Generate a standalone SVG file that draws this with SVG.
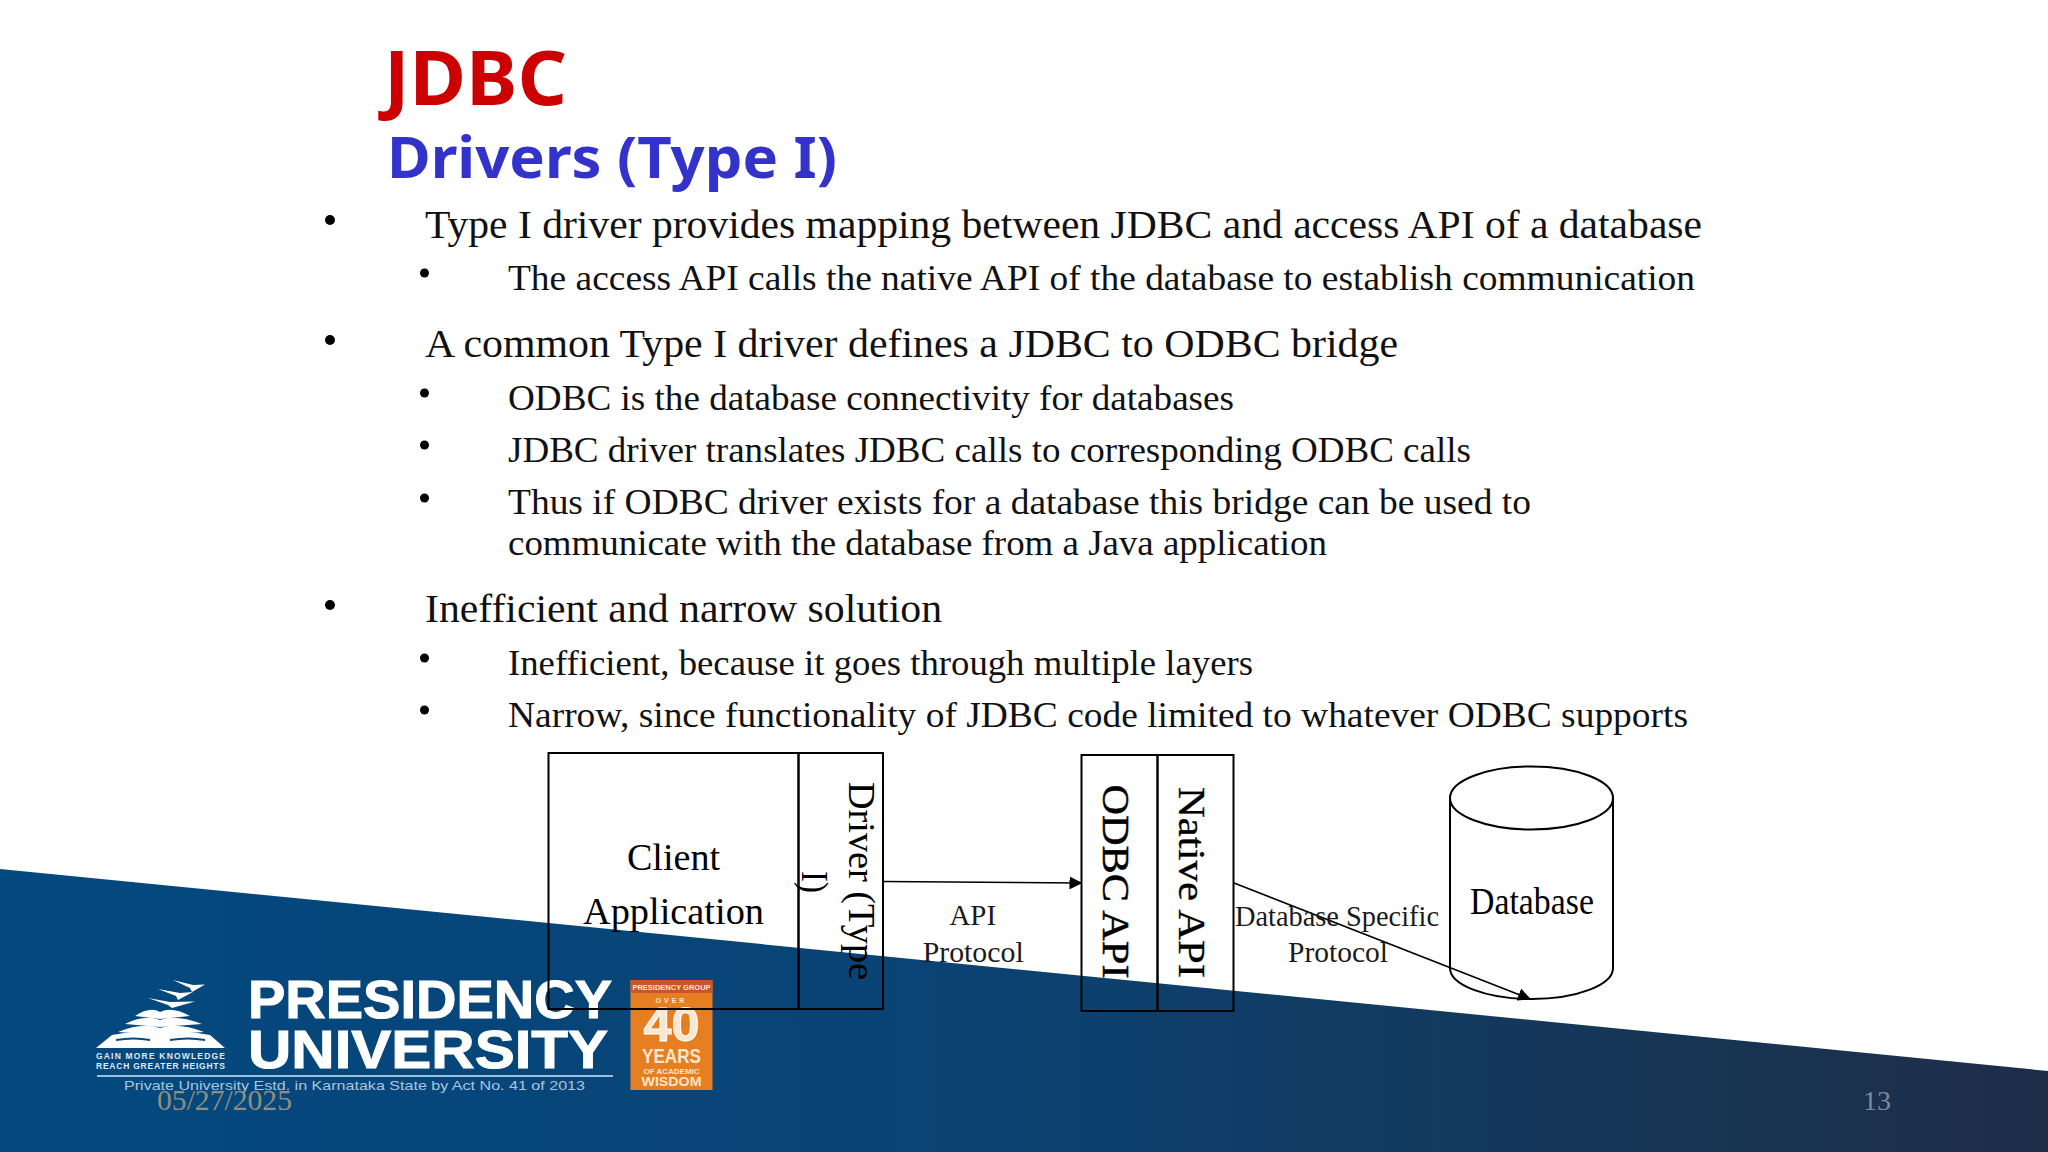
<svg xmlns="http://www.w3.org/2000/svg" width="2048" height="1152" viewBox="0 0 2048 1152">
<style>
.b{font-family:"Liberation Serif",serif;fill:#111;font-size:40px}
.s{font-family:"Liberation Serif",serif;fill:#111;font-size:36px}
.d{font-family:"Liberation Serif",serif;fill:#000;font-size:37px}
.l{font-family:"Liberation Serif",serif;fill:#1a1a1a;font-size:29px}
.t{font-family:"Noto Sans",sans-serif;font-weight:700}
.k{fill:none;stroke:#000;stroke-width:2}
.c{fill:none;stroke:#000;stroke-width:1.7}
.u{font-family:"Liberation Sans",sans-serif;font-weight:700;fill:#fff;stroke:#fff;stroke-width:1}
.m{font-family:"Liberation Sans",sans-serif;font-weight:700;fill:#dfeaf3}
.o{font-family:"Liberation Sans",sans-serif;font-weight:700;text-anchor:middle;fill:#fbe6cf}
.w{fill:#fff}
</style>
<defs>
<linearGradient id="bg" x1="0" y1="0" x2="1" y2="0">
<stop offset="0" stop-color="#03497f"/><stop offset=".45" stop-color="#0a4375"/><stop offset=".8" stop-color="#163656"/><stop offset="1" stop-color="#1e2d48"/>
</linearGradient>
<marker id="ah" markerWidth="13" markerHeight="13" refX="12" refY="6.5" orient="auto" markerUnits="userSpaceOnUse"><path d="M0 0L13 6.5L0 13Z" fill="#000"/></marker>
</defs>
<rect width="2048" height="1152" fill="#fff"/>
<path d="M0 869L2048 1071V1152H0Z" fill="url(#bg)"/>

<g id="title">
<text class="t" x="384" y="105" font-size="76" fill="#cc0000" textLength="183" lengthAdjust="spacingAndGlyphs">JDBC</text>
<text class="t" x="387" y="178" font-size="58" fill="#3333cc" textLength="450" lengthAdjust="spacingAndGlyphs">Drivers (Type I)</text>
</g>

<g id="bullets">
<circle cx="330" cy="220" r="5"/><circle cx="330" cy="340" r="5"/><circle cx="330" cy="605" r="5"/>
<circle cx="424.5" cy="273" r="4.5"/><circle cx="424.5" cy="393" r="4.5"/><circle cx="424.5" cy="445" r="4.5"/><circle cx="424.5" cy="498" r="4.5"/><circle cx="424.5" cy="658" r="4.5"/><circle cx="424.5" cy="710" r="4.5"/>
<text class="b" x="425" y="238" textLength="1277" lengthAdjust="spacingAndGlyphs">Type I driver provides mapping between JDBC and access API of a database</text>
<text class="s" x="508" y="290" textLength="1187" lengthAdjust="spacingAndGlyphs">The access API calls the native API of the database to establish communication</text>
<text class="b" x="425" y="357" textLength="973" lengthAdjust="spacingAndGlyphs">A common Type I driver defines a JDBC to ODBC bridge</text>
<text class="s" x="508" y="410" textLength="726" lengthAdjust="spacingAndGlyphs">ODBC is the database connectivity for databases</text>
<text class="s" x="508" y="462" textLength="963" lengthAdjust="spacingAndGlyphs">JDBC driver translates JDBC calls to corresponding ODBC calls</text>
<text class="s" x="508" y="514" textLength="1023" lengthAdjust="spacingAndGlyphs">Thus if ODBC driver exists for a database this bridge can be used to</text>
<text class="s" x="508" y="555" textLength="819" lengthAdjust="spacingAndGlyphs">communicate with the database from a Java application</text>
<text class="b" x="425" y="622" textLength="517" lengthAdjust="spacingAndGlyphs">Inefficient and narrow solution</text>
<text class="s" x="508" y="675" textLength="745" lengthAdjust="spacingAndGlyphs">Inefficient, because it goes through multiple layers</text>
<text class="s" x="508" y="727" textLength="1180" lengthAdjust="spacingAndGlyphs">Narrow, since functionality of JDBC code limited to whatever ODBC supports</text>
</g>

<g id="logo">
<g id="book">
<path class="w" d="M135 1016Q150 1006 160 1012Q172 1006 190 1016L160 1019Z"/>
<path class="w" d="M125 1024Q145 1014 160 1020Q176 1014 202 1024L160 1027Z"/>
<path class="w" d="M118 1032Q142 1022 160 1028Q178 1022 204 1032L160 1035Z"/>
<path class="w" fill-rule="evenodd" d="M112 1035Q135 1030 153 1034L167 1034Q186 1030 210 1035L225 1048H96ZM116 1039Q134 1036 150 1039L150 1041Q134 1038 116 1041ZM170 1039Q188 1036 205 1039L205 1041Q188 1038 170 1041Z"/>
<path class="w" d="M173 980L193 985L205 984.5L192 992L190 988ZM158 989L180 993L193 992L178 1000L176 996ZM148 998L170 1002L195 1001.5L172 1008L168 1005Z"/>
</g>
<text class="m" x="96" y="1059" font-size="8.5" textLength="129" lengthAdjust="spacing">GAIN MORE KNOWLEDGE</text>
<text class="m" x="96" y="1069" font-size="8.5" textLength="129" lengthAdjust="spacing">REACH GREATER HEIGHTS</text>
<text class="u" x="248" y="1018" font-size="53" textLength="364" lengthAdjust="spacingAndGlyphs">PRESIDENCY</text>
<text class="u" x="248" y="1068" font-size="53" textLength="360" lengthAdjust="spacingAndGlyphs">UNIVERSITY</text>
<rect x="97" y="1075" width="516" height="2" fill="#9fc0dc"/>
<text x="124" y="1090" font-family="Liberation Sans,sans-serif" font-size="13.5" fill="#a9c6de" textLength="461" lengthAdjust="spacingAndGlyphs">Private University Estd. in Karnataka State by Act No. 41 of 2013</text>
<rect x="630.5" y="980" width="82" height="110" fill="#e67e22"/>
<rect x="630.5" y="980" width="82" height="13" fill="#c8552b"/>
<text class="o" x="671.5" y="990" font-size="7.5">PRESIDENCY GROUP</text>
<text class="o" x="671.5" y="1003" font-size="7" letter-spacing="3">OVER</text>
<text class="o" x="671.5" y="1041" font-size="48" fill="#fff" stroke="#fff" stroke-width="1" textLength="56" lengthAdjust="spacingAndGlyphs">40</text>
<text class="o" x="671.5" y="1063" font-size="21" textLength="59" lengthAdjust="spacingAndGlyphs">YEARS</text>
<text class="o" x="671.5" y="1074" font-size="8">OF ACADEMIC</text>
<text class="o" x="671.5" y="1086" font-size="12" textLength="60" lengthAdjust="spacingAndGlyphs">WISDOM</text>
</g>

<text id="date" x="157" y="1110" font-family="Liberation Serif,serif" font-size="30" fill="#8f8f7d" textLength="135" lengthAdjust="spacingAndGlyphs">05/27/2025</text>
<text id="page" x="1877" y="1110" font-family="Liberation Serif,serif" font-size="28" fill="#7d8a99" text-anchor="middle">13</text>

<g id="client-application">
<rect class="k" x="548.5" y="753" width="250" height="256"/>
<text class="d" x="627" y="870" textLength="93" lengthAdjust="spacingAndGlyphs">Client</text>
<text class="d" x="583" y="924" textLength="181" lengthAdjust="spacingAndGlyphs">Application</text>
</g>
<g id="driver-type-i">
<rect class="k" x="798.5" y="753" width="84.5" height="256"/>
<text class="d" transform="translate(849 782) rotate(90)" font-size="38" textLength="198" lengthAdjust="spacingAndGlyphs">Driver (Type</text>
<text class="d" transform="translate(802 871) rotate(90)" font-size="38" textLength="22" lengthAdjust="spacingAndGlyphs">I)</text>
</g>
<g id="odbc-api">
<rect class="k" x="1081.5" y="755" width="76" height="256"/>
<text class="d" transform="translate(1102.5 784.5) rotate(90)" font-size="39" stroke="#000" stroke-width=".5" textLength="194" lengthAdjust="spacingAndGlyphs">ODBC API</text>
</g>
<g id="native-api">
<rect class="k" x="1157.5" y="755" width="76" height="256"/>
<text class="d" transform="translate(1178.5 787) rotate(90)" font-size="38" stroke="#000" stroke-width=".3" textLength="191" lengthAdjust="spacingAndGlyphs">Native API</text>
</g>
<g id="database">
<path class="k" d="M1450 798V968A81.5 31 0 0 0 1613 968V798"/>
<ellipse class="k" cx="1531.5" cy="798" rx="81.5" ry="31.5"/>
<text class="d" x="1470" y="914" font-size="34" textLength="124" lengthAdjust="spacingAndGlyphs">Database</text>
</g>

<g id="connectors">
<path class="c" d="M883 881.5L1081.5 883" marker-end="url(#ah)"/>
<path class="c" d="M1234 883L1530 999" marker-end="url(#ah)"/>
<text class="l" x="949.5" y="925" textLength="46.5" lengthAdjust="spacingAndGlyphs">API</text>
<text class="l" x="922.7" y="962" textLength="101" lengthAdjust="spacingAndGlyphs">Protocol</text>
<text class="l" x="1235" y="926" textLength="204" lengthAdjust="spacingAndGlyphs">Database Specific</text>
<text class="l" x="1288" y="962" textLength="100" lengthAdjust="spacingAndGlyphs">Protocol</text>
</g>
</svg>
